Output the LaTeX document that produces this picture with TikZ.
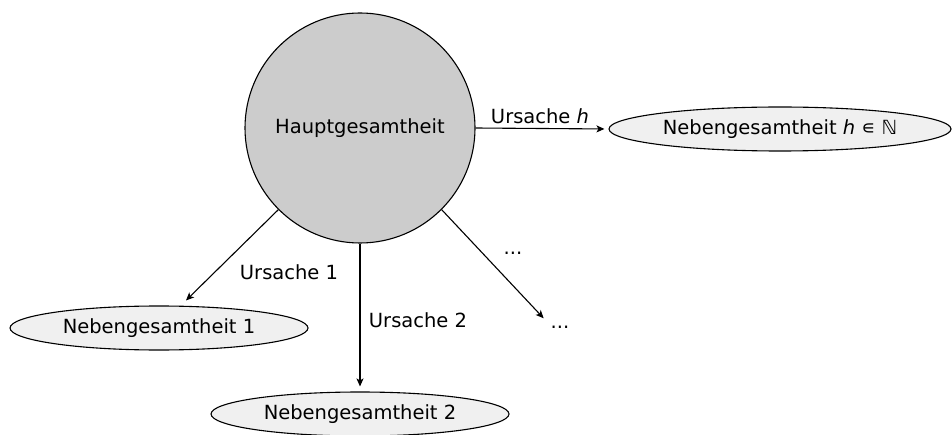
\documentclass[tikz,border=0pt]{standalone}
\usepackage{fontspec}
\setmainfont{DejaVu Sans}
\usetikzlibrary{shapes.geometric,arrows.meta}
\tikzset{
  main/.style={circle, draw, line width=1.1pt, fill=black!20, minimum size=230pt, inner sep=0pt},
  sub/.style={ellipse, draw, line width=1.1pt, fill=black!6, minimum height=44pt, inner sep=0pt},
  link/.style={-{Stealth[length=8pt,width=7pt,inset=2pt]}, line width=1.1pt},
  lbl/.style={inner sep=0pt},
}
\begin{document}
\begin{tikzpicture}[x=1pt,y=1pt,font=\fontsize{19.5}{23}\selectfont]
\useasboundingbox (0,0) rectangle (952,434);
\node[main] (hg) at (360,306) {Hauptgesamtheit};
\node[sub, minimum width=342pt] (nh) at (780,305) {Nebengesamtheit \textit{h} ∊ ℕ};
\node[sub, minimum width=298pt] (n1) at (159,106) {Nebengesamtheit 1};
\node[sub, minimum width=298pt] (n2) at (360,20) {Nebengesamtheit 2};
\node[lbl] (dots) at (560,107) {...};
\coordinate (t1) at ([xshift=27pt,yshift=5pt]n1.north);

\draw[link, shorten >=4pt] (hg.east) -- (nh.west);
\draw[link, shorten >=5pt] (hg.south) -- (n2.north);
\draw[link] (hg.225) -- (t1);
\draw[link, shorten >=10pt] (hg.315) -- (dots.north west);

\node[lbl] (lh) at (540,318) {Ursache \textit{h}};
\node[lbl] (l1) at (289,162) {Ursache 1};
\node[lbl] (l2) at (418,114) {Ursache 2};
\node[lbl] (ld) at (513,181) {...};
\end{tikzpicture}
\end{document}
